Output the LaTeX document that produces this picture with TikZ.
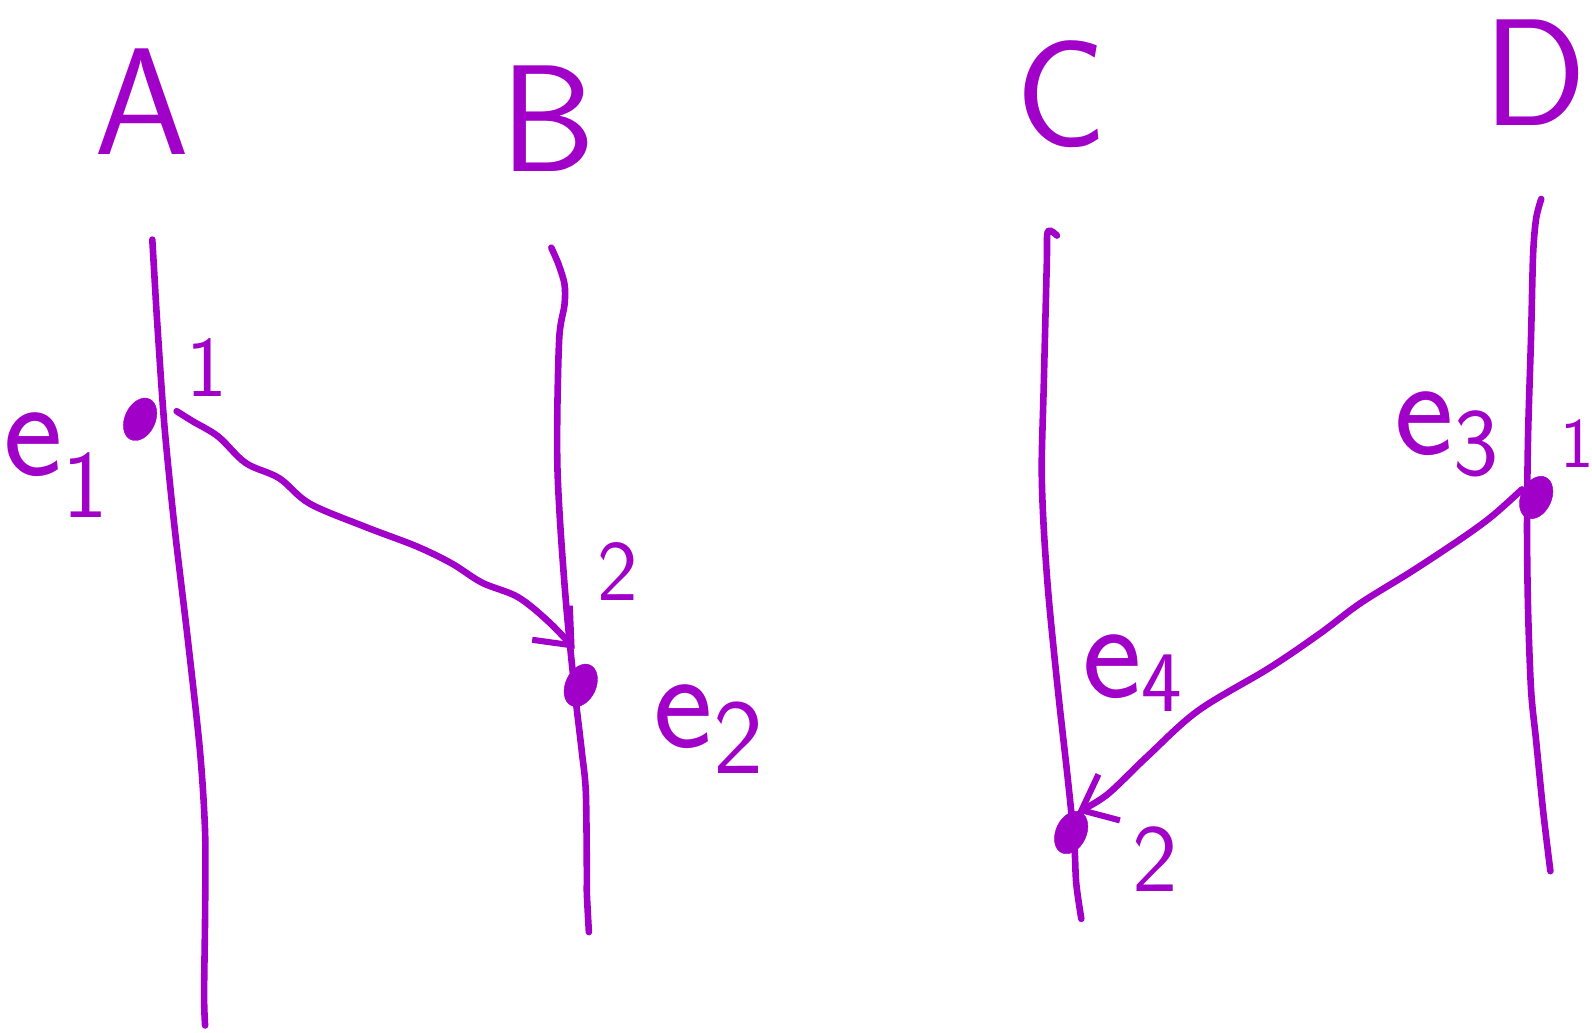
\documentclass[tikz,border=0pt]{standalone}
\usepackage{fontspec}
\usetikzlibrary{arrows.meta,calc,shapes.geometric}
\definecolor{ink}{RGB}{160,0,200}
\begin{document}
\begin{tikzpicture}[x=1pt,y=-1pt,
  proc/.style={draw=ink,line width=6.5pt,line cap=round,line join=round},
  msg/.style={draw=ink,line width=6.5pt,line cap=round,line join=round,-{Straight Barb[length=30pt,width=50pt,line width=6pt]}},
  evt/.style={ellipse,fill=ink,draw=ink,minimum width=30pt,minimum height=44pt,inner sep=0pt,rotate=-25},
  big/.style={text=ink,inner sep=0pt,font=\sffamily\fontsize{150}{150}\selectfont},
  elbl/.style={text=ink,inner sep=0pt,font=\sffamily\fontsize{140}{140}\selectfont},
  num/.style={text=ink,inner sep=0pt,font=\sffamily\fontsize{85}{85}\selectfont}]
\useasboundingbox (0,0) rectangle (1568,1017);
% process names
\node[big] (nA) at (140,100) {A};
\node[big] (nB) at (540,117) {B};
\node[big] (nC) at (1045,93) {C};
\node[big] (nD) at (1512,72) {D};
% process lines
\draw[proc] plot[smooth] coordinates {(150,236) (152,270) (155,320) (162,420) (172,520) (185,630) (197,740) (202,820) (202,900) (201,980) (202,1010)};
\draw[proc] plot[smooth] coordinates {(543,244) (550,260) (556,280) (556,300) (551,330) (549,400) (549,460) (552,520) (558,600) (566,680) (573,740) (577,780) (578,860) (578,880) (580,918)};
\draw[proc] plot[smooth] coordinates {(1041,232) (1032,228) (1031,260) (1028,380) (1026,460) (1028,520) (1033,590) (1042,680) (1052,770) (1058,830) (1060,870) (1065,905)};
\draw[proc] plot[smooth] coordinates {(1518,196) (1513,215) (1510,250) (1508,330) (1505,430) (1504,520) (1505,600) (1508,680) (1513,730) (1520,800) (1527,858)};
% events
\node[evt] (e1) at (138,413) {};
\node[evt] (e2) at (572,675) {};
\node[evt] (e3) at (1513,490) {};
\node[evt] (e4) at (1055,820) {};
% labels
\node[elbl] (le1) at (55,458) {e\raisebox{-0.3em}{\fontsize{95}{95}\selectfont 1}};
\node[elbl] (le2) at (698,718) {e\raisebox{-0.18em}{\fontsize{105}{105}\selectfont 2}};
\node[elbl] (le3) at (1425,428) {e\raisebox{-0.15em}{\fontsize{95}{95}\selectfont 3}};
\node[elbl] (le4) at (1115,663) {e\raisebox{-0.1em}{\fontsize{85}{85}\selectfont 4}};
\node[num] (t1) at (204,362) {1};
\node[num] (t2) at (608,563) {2};
\node[num,font=\sffamily\fontsize{70}{70}\selectfont] (t3) at (1553,437) {1};
\node[num,font=\sffamily\fontsize{95}{95}\selectfont] (t4) at (1138,846) {2};
% messages
\coordinate (m1s) at ($(e1)+(36,-8)$);
\coordinate (m1e) at ($(e2)+(-6,-36)$);
\draw[msg] plot[smooth,tension=0.55] coordinates {(m1s) (190,415) (215,430) (242,456) (275,471) (305,496) (360,519) (410,538) (445,555) (475,574) (510,588) (540,612) (m1e)};
\coordinate (m2s) at ($(e3)+(-14,-8)$);
\coordinate (m2e) at ($(e4)+(6,-20)$);
\draw[msg] plot[smooth,tension=0.55] coordinates {(m2s) (1470,508) (1440,530) (1390,563) (1340,594) (1300,624) (1250,658) (1180,700) (1130,745) (1090,783) (m2e)};
\end{tikzpicture}
\end{document}
